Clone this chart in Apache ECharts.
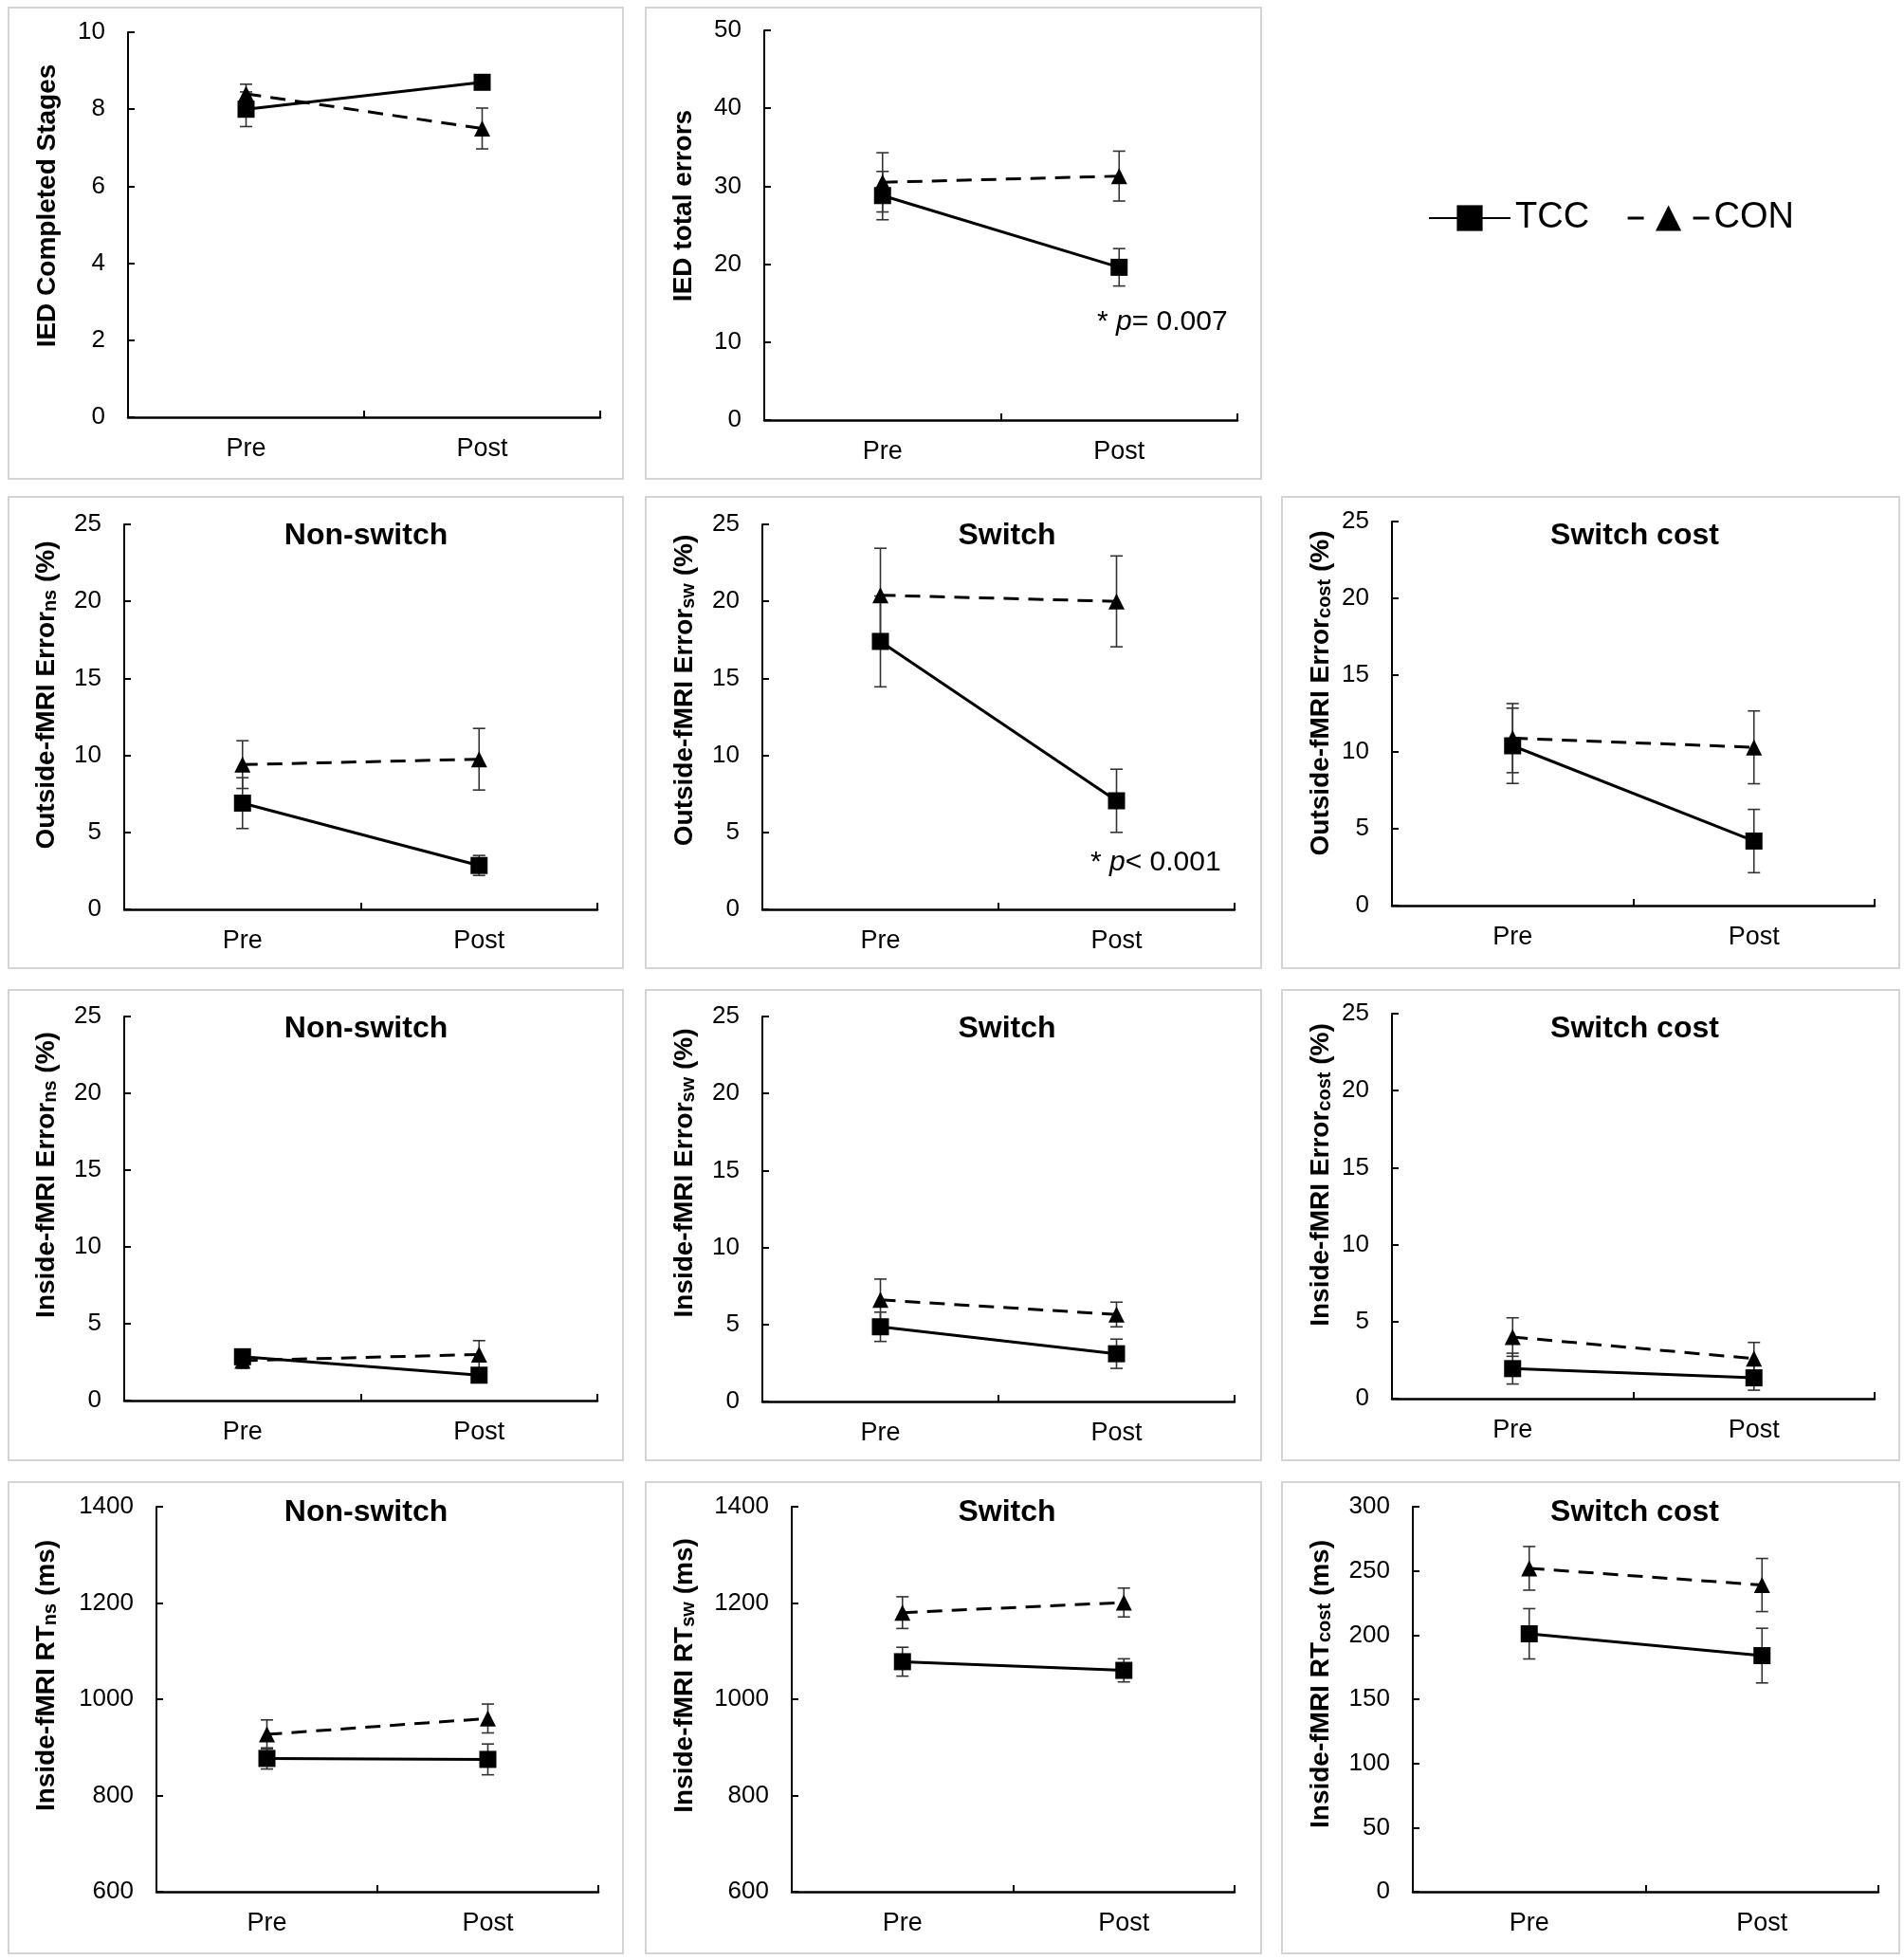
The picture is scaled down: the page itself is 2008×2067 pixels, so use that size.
<!DOCTYPE html>
<html>
<head>
<meta charset="utf-8">
<script src="https://cdn.jsdelivr.net/npm/echarts@6/dist/echarts.min.js"></script>
<style>
  html, body { margin: 0; padding: 0; background: #fff; }
  #chart { width: 2008px; height: 2067px; }
</style>
</head>
<body>
<div id="chart"></div>
<script>
// ---------------- DATA ----------------
const categories = ['Pre', 'Post'];
const seriesNames = ['TCC', 'CON'];

// IED Completed Stages
const stagesTCC = [8.0, 8.7];
const stagesTCCErr = [0.45, 0.15];
const stagesCON = [8.4, 7.5];
const stagesCONErr = [0.25, 0.53];
const stagesAxis = [0, 10, 2];

// IED total errors
const iedErrTCC = [28.8, 19.6];
const iedErrTCCErr = [3.1, 2.4];
const iedErrCON = [30.5, 31.3];
const iedErrCONErr = [3.8, 3.2];
const iedErrAxis = [0, 50, 10];

// Outside-fMRI error, non-switch
const outNsTCC = [6.9, 2.85];
const outNsTCCErr = [1.65, 0.65];
const outNsCON = [9.4, 9.75];
const outNsCONErr = [1.55, 2.0];

// Outside-fMRI error, switch
const outSwTCC = [17.4, 7.05];
const outSwTCCErr = [2.95, 2.05];
const outSwCON = [20.4, 20.0];
const outSwCONErr = [3.05, 2.95];

// Outside-fMRI error, switch cost
const outCostTCC = [10.4, 4.2];
const outCostTCCErr = [2.45, 2.06];
const outCostCON = [10.9, 10.3];
const outCostCONErr = [2.25, 2.37];

// Inside-fMRI error, non-switch
const inNsTCC = [2.85, 1.65];
const inNsTCCErr = [0.45, 0.35];
const inNsCON = [2.6, 3.0];
const inNsCONErr = [0.5, 0.9];

// Inside-fMRI error, switch
const inSwTCC = [4.85, 3.1];
const inSwTCCErr = [0.95, 0.95];
const inSwCON = [6.6, 5.65];
const inSwCONErr = [1.35, 0.8];

// Inside-fMRI error, switch cost
const inCostTCC = [1.95, 1.35];
const inCostTCCErr = [1.0, 0.8];
const inCostCON = [4.0, 2.6];
const inCostCONErr = [1.25, 1.05];

const pctAxis = [0, 25, 5];

// Inside-fMRI RT, non-switch
const rtNsTCC = [877, 875];
const rtNsTCCErr = [22, 32];
const rtNsCON = [927, 960];
const rtNsCONErr = [30, 30];

// Inside-fMRI RT, switch
const rtSwTCC = [1078, 1060];
const rtSwTCCErr = [30, 24];
const rtSwCON = [1180, 1201];
const rtSwCONErr = [33, 30];

// Inside-fMRI RT, switch cost
const rtCostTCC = [201, 184];
const rtCostTCCErr = [19.6, 21.3];
const rtCostCON = [252, 239];
const rtCostCONErr = [17, 20.7];

const rtAxis = [600, 1400, 200];
const rtCostAxis = [0, 300, 50];

// Texts
const yTitles = [
  'IED Completed Stages',
  'IED total errors',
  'Outside-fMRI Error{sub|ns} (%)',
  'Outside-fMRI Error{sub|sw} (%)',
  'Outside-fMRI Error{sub|cost} (%)',
  'Inside-fMRI Error{sub|ns} (%)',
  'Inside-fMRI Error{sub|sw} (%)',
  'Inside-fMRI Error{sub|cost} (%)',
  'Inside-fMRI RT{sub|ns} (ms)',
  'Inside-fMRI RT{sub|sw} (ms)',
  'Inside-fMRI RT{sub|cost} (ms)'
];
const panelTitles = ['', '', 'Non-switch', 'Switch', 'Switch cost', 'Non-switch', 'Switch', 'Switch cost', 'Non-switch', 'Switch', 'Switch cost'];
const annotations = ['{n|* }{i|p}{n|= 0.007}', '{n|* }{i|p}{n|< 0.001}'];

// ---------------- LAYOUT ----------------
const FONT = '"Liberation Sans", Arial, Helvetica, sans-serif';
const panels = [
  { tcc: stagesTCC, tccE: stagesTCCErr, con: stagesCON, conE: stagesCONErr, axis: stagesAxis,
    grid: [135, 34, 498, 406], box: [9, 8, 648, 497], yt: [50, 217], tt: null },
  { tcc: iedErrTCC, tccE: iedErrTCCErr, con: iedErrCON, conE: iedErrCONErr, axis: iedErrAxis,
    grid: [806, 32, 499, 411], box: [681, 8, 649, 497], yt: [721, 217], tt: null },
  { tcc: outNsTCC, tccE: outNsTCCErr, con: outNsCON, conE: outNsCONErr, axis: pctAxis,
    grid: [131, 553, 499, 406], box: [9, 524, 648, 497], yt: [48, 733], tt: [386, 565] },
  { tcc: outSwTCC, tccE: outSwTCCErr, con: outSwCON, conE: outSwCONErr, axis: pctAxis,
    grid: [804, 553, 498, 406], box: [681, 524, 649, 497], yt: [721, 728], tt: [1062, 565] },
  { tcc: outCostTCC, tccE: outCostTCCErr, con: outCostCON, conE: outCostCONErr, axis: pctAxis,
    grid: [1468, 550, 509, 405], box: [1352, 524, 651, 497], yt: [1392, 731], tt: [1724, 565] },
  { tcc: inNsTCC, tccE: inNsTCCErr, con: inNsCON, conE: inNsCONErr, axis: pctAxis,
    grid: [131, 1072, 499, 405], box: [9, 1044, 648, 496], yt: [48, 1239], tt: [386, 1085] },
  { tcc: inSwTCC, tccE: inSwTCCErr, con: inSwCON, conE: inSwCONErr, axis: pctAxis,
    grid: [804, 1072, 498, 406], box: [681, 1044, 649, 496], yt: [721, 1237], tt: [1062, 1085] },
  { tcc: inCostTCC, tccE: inCostTCCErr, con: inCostCON, conE: inCostCONErr, axis: pctAxis,
    grid: [1468, 1069, 509, 406], box: [1352, 1044, 651, 496], yt: [1392, 1239], tt: [1724, 1085] },
  { tcc: rtNsTCC, tccE: rtNsTCCErr, con: rtNsCON, conE: rtNsCONErr, axis: rtAxis,
    grid: [165, 1589, 466, 406], box: [9, 1563, 648, 497], yt: [48, 1767], tt: [386, 1595] },
  { tcc: rtSwTCC, tccE: rtSwTCCErr, con: rtSwCON, conE: rtSwCONErr, axis: rtAxis,
    grid: [835, 1589, 467, 406], box: [681, 1563, 649, 497], yt: [721, 1767], tt: [1062, 1595] },
  { tcc: rtCostTCC, tccE: rtCostTCCErr, con: rtCostCON, conE: rtCostCONErr, axis: rtCostAxis,
    grid: [1490, 1589, 491, 406], box: [1352, 1563, 651, 497], yt: [1392, 1776], tt: [1724, 1595] }
];
const annotationPos = [[1157, 340], [1150, 910]];

// ---------------- BUILD ----------------
function errData(mean, err) {
  return mean.map((m, i) => [i, m - err[i], m + err[i]]);
}
function renderErr(params, api) {
  const xi = api.value(0);
  const a = api.coord([xi, api.value(1)]);
  const b = api.coord([xi, api.value(2)]);
  const hw = 6.5;
  const st = { stroke: '#333', lineWidth: 1.6 };
  return {
    type: 'group',
    children: [
      { type: 'line', shape: { x1: a[0], y1: a[1], x2: b[0], y2: b[1] }, style: st },
      { type: 'line', shape: { x1: a[0] - hw, y1: a[1], x2: a[0] + hw, y2: a[1] }, style: st },
      { type: 'line', shape: { x1: b[0] - hw, y1: b[1], x2: b[0] + hw, y2: b[1] }, style: st }
    ]
  };
}

const grids = [], xAxes = [], yAxes = [], series = [], graphics = [];
panels.forEach((p, i) => {
  grids.push({ left: p.grid[0], top: p.grid[1], width: p.grid[2], height: p.grid[3], containLabel: false, outerBoundsMode: 'none' });
  xAxes.push({
    type: 'category', gridIndex: i, data: categories, boundaryGap: true,
    axisLine: { show: true, onZero: false, lineStyle: { color: '#000', width: 2.5 } },
    axisTick: { show: true, inside: true, length: 7, lineStyle: { color: '#000', width: 2 } },
    axisLabel: { color: '#000', fontSize: 27, fontFamily: FONT, margin: 20 },
    splitLine: { show: false }
  });
  yAxes.push({
    type: 'value', gridIndex: i, min: p.axis[0], max: p.axis[1], interval: p.axis[2],
    axisLine: { show: true, onZero: false, lineStyle: { color: '#000', width: 2 } },
    axisTick: { show: true, inside: true, length: 7, lineStyle: { color: '#000', width: 2 } },
    axisLabel: { color: '#000', fontSize: 26, fontFamily: FONT, margin: 24, formatter: v => String(v) },
    splitLine: { show: false }
  });
  series.push({
    type: 'custom', name: 'errTCC' + i, xAxisIndex: i, yAxisIndex: i, z: 2,
    renderItem: renderErr, data: errData(p.tcc, p.tccE), encode: { x: 0, y: [1, 2] },
    silent: true, animation: false
  });
  series.push({
    type: 'custom', name: 'errCON' + i, xAxisIndex: i, yAxisIndex: i, z: 2,
    renderItem: renderErr, data: errData(p.con, p.conE), encode: { x: 0, y: [1, 2] },
    silent: true, animation: false
  });
  series.push({
    type: 'line', name: seriesNames[1], xAxisIndex: i, yAxisIndex: i, z: 3,
    data: p.con, symbol: 'triangle', symbolSize: 17, showSymbol: true,
    itemStyle: { color: '#000' },
    lineStyle: { color: '#000', width: 3, type: [16, 10] },
    emphasis: { disabled: true }, animation: false
  });
  series.push({
    type: 'line', name: seriesNames[0], xAxisIndex: i, yAxisIndex: i, z: 4,
    data: p.tcc, symbol: 'rect', symbolSize: 18, showSymbol: true,
    itemStyle: { color: '#000' },
    lineStyle: { color: '#000', width: 3, type: 'solid' },
    emphasis: { disabled: true }, animation: false
  });

  graphics.push({
    type: 'rect', silent: true, z: 0,
    shape: { x: p.box[0], y: p.box[1], width: p.box[2], height: p.box[3] },
    style: { fill: 'none', stroke: '#d4d4d4', lineWidth: 2 }
  });
  graphics.push({
    type: 'text', silent: true, x: p.yt[0], y: p.yt[1], rotation: Math.PI / 2,
    style: {
      text: yTitles[i].indexOf('{') >= 0 ? '{m|' + yTitles[i].replace(/\{sub\|([^}]*)\}/, '}{sub|$1}{m|') + '}' : yTitles[i],
      fontSize: 28, fontWeight: 'bold', fontFamily: FONT, fill: '#000',
      align: 'center', verticalAlign: 'middle',
      rich: {
        m: { fontSize: 28, fontWeight: 'bold', fontFamily: FONT, fill: '#000', verticalAlign: 'bottom', lineHeight: 30 },
        sub: { fontSize: 20, fontWeight: 'bold', fontFamily: FONT, fill: '#000', verticalAlign: 'bottom', lineHeight: 22 }
      }
    }
  });
  if (p.tt) {
    graphics.push({
      type: 'text', silent: true, x: p.tt[0], y: p.tt[1],
      style: {
        text: panelTitles[i], fontSize: 32, fontWeight: 'bold', fontFamily: FONT, fill: '#000',
        align: 'center', verticalAlign: 'middle'
      }
    });
  }
});

annotations.forEach((t, k) => {
  graphics.push({
    type: 'text', silent: true, x: annotationPos[k][0], y: annotationPos[k][1],
    style: {
      text: t, align: 'left', verticalAlign: 'middle',
      rich: {
        n: { fontSize: 30, fontFamily: FONT, fill: '#000' },
        i: { fontSize: 30, fontFamily: FONT, fontStyle: 'italic', fill: '#000' }
      }
    }
  });
});

const option = {
  backgroundColor: '#fff',
  animation: false,
  grid: grids,
  xAxis: xAxes,
  yAxis: yAxes,
  series: series,
  graphic: { elements: graphics },
  legend: {
    left: 1501, top: 206, orient: 'horizontal',
    itemWidth: 86, itemHeight: 34, itemGap: 39,
    selectedMode: false,
    textStyle: { fontSize: 38, color: '#000', fontFamily: FONT },
    data: [
      { name: 'TCC' },
      { name: 'CON', lineStyle: { type: [17, 52], width: 3 } }
    ]
  }
};

const chart = echarts.init(document.getElementById('chart'), null, { renderer: 'canvas' });
chart.setOption(option);
</script>
</body>
</html>
